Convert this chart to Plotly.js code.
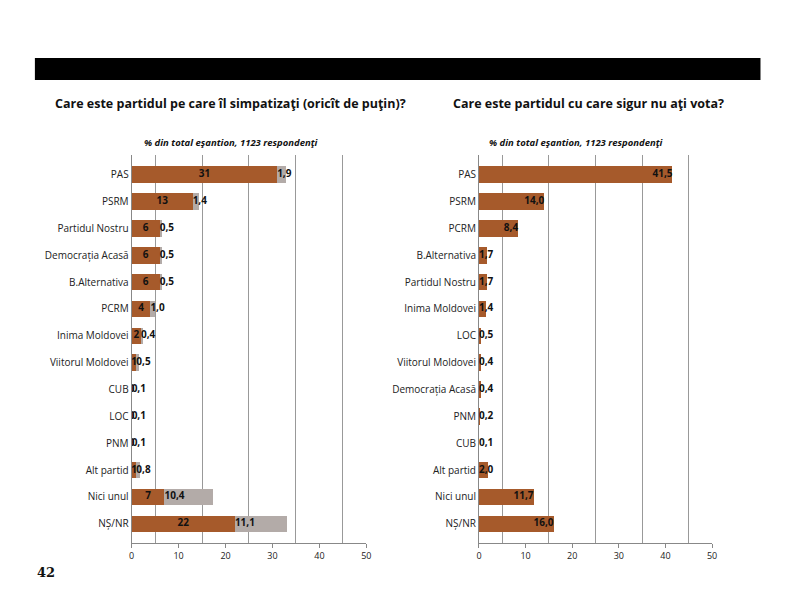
<!DOCTYPE html><html><head><script src="https://cdn.plot.ly/plotly-3.0.1.min.js"></script>
<style>body{margin:0}#c{width:793px;height:595px}</style></head><body><div id="c"></div><script>
const catsL=["PAS","PSRM","Partidul Nostru","Democrația Acasă","B.Alternativa","PCRM","Inima Moldovei","Viitorul Moldovei","CUB","LOC","PNM","Alt partid","Nici unul","NȘ/NR"];
const brownL=[31,13,6,6,6,4,2,1,0,0,0,1,7,22];
const grayL=[1.9,1.4,0.5,0.5,0.5,1.0,0.4,0.5,0.1,0.1,0.1,0.8,10.4,11.1];
const catsR=["PAS","PSRM","PCRM","B.Alternativa","Partidul Nostru","Inima Moldovei","LOC","Viitorul Moldovei","Democrația Acasă","PNM","CUB","Alt partid","Nici unul","NȘ/NR"];
const valsR=[41.5,14.0,8.4,1.7,1.7,1.4,0.5,0.4,0.4,0.2,0.1,2.0,11.7,16.0];
const fmt=v=>v.toFixed(1).replace('.',',');
const BR='#A65A2B',GR='#B3ABA8',F="Open Sans, sans-serif";
const tfb={family:F,size:10,color:'#111',weight:'bold'};
const traces=[
{type:'bar',orientation:'h',y:catsL,x:brownL,marker:{color:BR},xaxis:'x',yaxis:'y',hoverinfo:'none'},
{type:'bar',orientation:'h',y:catsL,x:grayL,marker:{color:GR},xaxis:'x',yaxis:'y',hoverinfo:'none'},
{type:'scatter',mode:'text',y:catsL,x:brownL.map(v=>v/2),text:brownL.map(String),textfont:tfb,textposition:'middle center',xaxis:'x',yaxis:'y',hoverinfo:'none'},
{type:'scatter',mode:'text',y:catsL,x:brownL,text:grayL.map(fmt),textfont:tfb,textposition:'middle right',xaxis:'x',yaxis:'y',hoverinfo:'none'},
{type:'bar',orientation:'h',y:catsR,x:valsR,marker:{color:BR},xaxis:'x2',yaxis:'y2',hoverinfo:'none'},
{type:'scatter',mode:'text',y:catsR.filter((c,i)=>valsR[i]>=5),x:valsR.filter(v=>v>=5),text:valsR.filter(v=>v>=5).map(fmt),textfont:tfb,textposition:'middle left',xaxis:'x2',yaxis:'y2',hoverinfo:'none'},
{type:'scatter',mode:'text',y:catsR.filter((c,i)=>valsR[i]<5),x:valsR.filter(v=>v<5).map(()=>0),text:valsR.filter(v=>v<5).map(fmt),textfont:tfb,textposition:'middle right',xaxis:'x2',yaxis:'y2',hoverinfo:'none'}
];
const ax=(d)=>({domain:d,range:[0,50],dtick:10,showgrid:false,showline:true,linecolor:'#888',ticks:'outside',ticklen:4,tickcolor:'#888',tickfont:{family:F,size:9,color:'#222'},zeroline:false,fixedrange:true});
const gax=(d,a)=>({domain:d,range:[0,50],tick0:5,dtick:10,showgrid:true,gridcolor:'#999',gridwidth:1,showticklabels:false,overlaying:a,zeroline:false,anchor:a=='x'?'y':'y2'});
const yax=(c)=>({domain:[0.087,0.739],autorange:'reversed',categoryorder:'array',categoryarray:c,tickfont:{family:F,size:10,color:'#222'},ticks:'',showline:true,linecolor:'#888',fixedrange:true});
const ann=(t,x,y,s,anc,fam)=>({text:t,xref:'paper',yref:'paper',x:x,y:1-y/595,xanchor:anc,yanchor:'middle',showarrow:false,font:{family:fam||F,size:s,color:'#111'}});
const layout={width:793,height:595,margin:{l:0,r:0,t:0,b:0},showlegend:false,barmode:'stack',bargap:0.38,paper_bgcolor:'#fff',plot_bgcolor:'rgba(0,0,0,0)',
xaxis:ax([0.166,0.462]),xaxis2:ax([0.604,0.898]),
xaxis3:gax([0.166,0.462],'x'),xaxis4:gax([0.604,0.898],'x2'),
yaxis:yax(catsL),yaxis2:Object.assign(yax(catsR),{anchor:'x2'}),
shapes:[{type:'rect',xref:'paper',yref:'paper',x0:0.044,x1:0.959,y0:1-80/595,y1:1-58/595,fillcolor:'#000',line:{width:0}}],
annotations:[
ann('<b>Care este partidul pe care îl simpatizaţi (oricît de puţin)?</b>',0.067,103,12.5,'left'),
ann('<b>Care este partidul cu care sigur nu aţi vota?</b>',0.569,103,12.5,'left'),
ann('<b><i>% din total eşantion, 1123 respondenţi</i></b>',0.292,142,9.5,'center'),
ann('<b><i>% din total eşantion, 1123 respondenţi</i></b>',0.727,142,9.5,'center'),
ann('<b>42</b>',0.044,572,13,'left','DejaVu Serif, serif')
]};
traces.unshift({type:'scatter',x:[0],y:[catsL[0]],xaxis:'x3',yaxis:'y',mode:'none',hoverinfo:'none'},{type:'scatter',x:[0],y:[catsR[0]],xaxis:'x4',yaxis:'y2',mode:'none',hoverinfo:'none'});
Plotly.newPlot('c',traces,layout,{staticPlot:true});
</script></body></html>
